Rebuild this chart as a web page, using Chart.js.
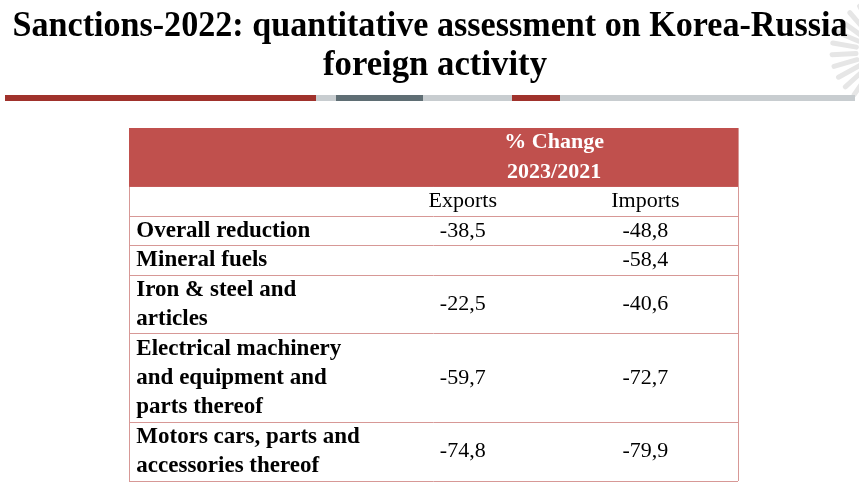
<!DOCTYPE html>
<html>
<head>
<meta charset="utf-8">
<script src="https://cdn.jsdelivr.net/npm/chart.js@4"></script>
<style>
  html, body { margin: 0; padding: 0; background: #fff; }
  #wrap { width: 859px; height: 503px; position: relative; }
</style>
</head>
<body>
<div id="wrap"><canvas id="myChart"></canvas></div>
<script>
// table content
const titleLines = ['Sanctions-2022: quantitative assessment on Korea-Russia', 'foreign activity'];
const headerLines = ['% Change', '2023/2021'];
const seriesNames = ['Exports', 'Imports'];
const categories = [
  ['Overall reduction'],
  ['Mineral fuels'],
  ['Iron & steel and', 'articles'],
  ['Electrical machinery', 'and equipment and', 'parts thereof'],
  ['Motors cars, parts and', 'accessories thereof']
];
const exportsChange = [-38.5, null, -22.5, -59.7, -74.8];
const importsChange = [-48.8, -58.4, -40.6, -72.7, -79.9];

// layout of the table (x in fraction of table width, y in text lines)
const colCenters = [0.548, 0.848];
const labelX = 0.012;
const headerRows = 2, subHeaderRows = 1;

const rowTops = [];
let acc = headerRows + subHeaderRows;
categories.forEach(function(c) { rowTops.push(acc); acc += c.length; });
const totalRows = acc;
const boundaries = [headerRows, headerRows + subHeaderRows].concat(rowTops.slice(1), [totalRows]);

function fmt(v) { return v.toFixed(1).replace('.', ','); }

function cellData(values, col) {
  const out = [];
  values.forEach(function(v, i) {
    if (v === null) return;
    out.push({ x: colCenters[col], y: rowTops[i] + categories[i].length / 2, v: v });
  });
  return out;
}

const serif = "'Liberation Serif', 'Times New Roman', serif";

const tablePlugin = {
  id: 'tablePlugin',
  beforeDatasetsDraw: function(chart) {
    const ctx = chart.ctx, x = chart.scales.x, y = chart.scales.y;
    ctx.save();
    // faint fan in the corner
    ctx.strokeStyle = '#e6e6e6';
    ctx.lineWidth = 5;
    ctx.lineCap = 'round';
    for (let a = 112; a <= 242; a += 13) {
      const r = a * Math.PI / 180;
      ctx.beginPath();
      ctx.moveTo(884 + Math.cos(r) * 28, 52 + Math.sin(r) * 28);
      ctx.lineTo(884 + Math.cos(r) * 52, 52 + Math.sin(r) * 52);
      ctx.stroke();
    }
    // title
    ctx.fillStyle = '#000';
    ctx.font = 'bold 36px ' + serif;
    ctx.textAlign = 'center';
    ctx.textBaseline = 'alphabetic';
    ctx.fillText(titleLines[0], 430, 36, 835);
    ctx.fillText(titleLines[1], 435, 75, 224);
    // decorative stripe under the title
    const stripes = [[5, 316, '#a0322c'], [316, 336, '#c8cdd0'], [336, 423, '#5f6e74'], [423, 512, '#c8cdd0'], [512, 560, '#a0322c'], [560, 855, '#c8cdd0']];
    stripes.forEach(function(s) { ctx.fillStyle = s[2]; ctx.fillRect(s[0], 95, s[1] - s[0], 6); });
    // header band
    ctx.fillStyle = '#c0504d';
    ctx.fillRect(x.getPixelForValue(0), y.getPixelForValue(0), x.getPixelForValue(1) - x.getPixelForValue(0), y.getPixelForValue(headerRows) - y.getPixelForValue(0));
    ctx.restore();
  },
  afterDatasetsDraw: function(chart) {
    const ctx = chart.ctx, x = chart.scales.x, y = chart.scales.y;
    ctx.save();
    ctx.textBaseline = 'middle';
    // header text
    ctx.fillStyle = '#ffffff';
    ctx.font = 'bold 22px ' + serif;
    ctx.textAlign = 'center';
    const hx = (x.getPixelForValue(colCenters[0]) + x.getPixelForValue(colCenters[1])) / 2;
    headerLines.forEach(function(t, i) { ctx.fillText(t, hx, y.getPixelForValue(i + 0.5)); });
    // column names
    ctx.fillStyle = '#000';
    ctx.font = '22px ' + serif;
    seriesNames.forEach(function(t, i) { ctx.fillText(t, x.getPixelForValue(colCenters[i]), y.getPixelForValue(headerRows + 0.5)); });
    // row labels
    ctx.font = 'bold 23px ' + serif;
    ctx.textAlign = 'left';
    categories.forEach(function(lines, i) {
      lines.forEach(function(t, j) { ctx.fillText(t, x.getPixelForValue(labelX), y.getPixelForValue(rowTops[i] + j + 0.5)); });
    });
    // values
    ctx.font = '22px ' + serif;
    ctx.textAlign = 'center';
    chart.data.datasets.forEach(function(ds, d) {
      chart.getDatasetMeta(d).data.forEach(function(pt, i) { ctx.fillText(fmt(ds.data[i].v), pt.x, pt.y); });
    });
    ctx.restore();
  }
};

new Chart(document.getElementById('myChart'), {
  type: 'scatter',
  data: {
    datasets: [
      { label: seriesNames[0], data: cellData(exportsChange, 0), pointRadius: 0 },
      { label: seriesNames[1], data: cellData(importsChange, 1), pointRadius: 0 }
    ]
  },
  options: {
    responsive: true,
    maintainAspectRatio: false,
    animation: false,
    events: [],
    layout: { padding: { left: 129, right: 121, top: 128, bottom: 22 } },
    scales: {
      x: {
        type: 'linear', min: 0, max: 1,
        afterBuildTicks: function(s) { s.ticks = [{ value: 0 }, { value: 1 }]; },
        ticks: { display: false },
        grid: { color: '#d79896', lineWidth: 1, drawTicks: false },
        border: { display: false }
      },
      y: {
        type: 'linear', min: 0, max: totalRows, reverse: true,
        afterBuildTicks: function(s) { s.ticks = boundaries.map(function(v) { return { value: v }; }); },
        ticks: { display: false },
        grid: { color: '#d79896', lineWidth: 1, drawTicks: false },
        border: { display: false }
      }
    },
    plugins: {
      legend: { display: false },
      tooltip: { enabled: false },
      title: { display: false }
    }
  },
  plugins: [tablePlugin]
});
</script>
</body>
</html>
